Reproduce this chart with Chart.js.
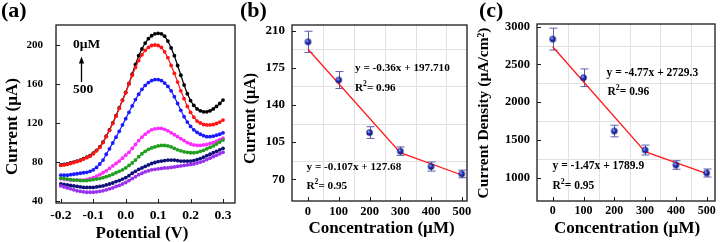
<!DOCTYPE html>
<html><head><meta charset="utf-8">
<script src="https://cdn.jsdelivr.net/npm/chart.js@4/dist/chart.umd.min.js"></script>
<style>
html,body{margin:0;padding:0;background:#fff;}
#wrap{position:relative;width:720px;height:242px;overflow:hidden;background:#fff;}
#wrap canvas{position:absolute;left:0;top:0;}
</style></head><body>
<div id="wrap">
<canvas id="ca" width="720" height="242"></canvas>
<canvas id="cb" width="720" height="242"></canvas>
<canvas id="cc" width="720" height="242"></canvas>
</div>
<script>
// ---------- Panel (a): current vs potential ----------
const potential = [-0.20,-0.19,-0.18,-0.17,-0.16,-0.15,-0.14,-0.13,-0.12,-0.11,
 -0.10,-0.09,-0.08,-0.07,-0.06,-0.05,-0.04,-0.03,-0.02,-0.01,
 0.00,0.01,0.02,0.03,0.04,0.05,0.06,0.07,0.08,0.09,
 0.10,0.11,0.12,0.13,0.14,0.15,0.16,0.17,0.18,0.19,
 0.20,0.21,0.22,0.23,0.24,0.25,0.26,0.27,0.28,0.29,0.30];
const curveBlack = [77,77.5,78,79,80,81,82,83.5,85,86.5,
 89,92,95.5,100.5,106.5,113,120,127.5,135.5,143.5,
 151.5,160.5,170,180,189,196,202,206.5,209.5,211.5,
 212,211.5,209,204,197,189,179,169,159,150,
 143,138,134.5,132.5,131.5,131.5,132.5,134.5,137,140,143.5];
const curveRed = [76.5,77,77.5,78.5,79.5,80.5,81.5,83,84.5,86,
 88.5,91.5,95,100,106,112.5,119.5,127,135,143,
 151,160,169,177,184,190,194.5,197.5,199.5,200,
 199.5,197.5,193,187,179,171,162,153,145,137,
 131,126,122,120,118.5,118,118,118.5,119.5,121,123];
const curveBlue = [66.5,66.5,66.5,67,67.5,68,68.5,69,69.5,70.5,
 72,74.5,78,82,88,93.5,99.5,105.5,111.5,118,
 124.5,131,137.5,144,149.5,154.5,158.5,161.5,163.5,164.5,
 164.5,163.5,161,157.5,153,147,140,133,126.5,121,
 116.5,113,110.5,108.5,107,106,106,106.5,107.5,108.5,110];
const curveMagenta = [63,62.5,62,61.5,61.5,61.5,61.5,61.5,62,63,
 64,65.5,67,69,71,73.5,76,78.5,81,84,
 87,90,94,98,102,105.5,108.5,111,113,114,
 114.5,114.5,113.5,112,110,108,106,104,102,100,
 98.5,97.5,97,97,97.5,98,99,100,101.5,103,104.5];
const curveGreen = [63.5,63,62.5,62,61.5,61.5,61,61,61,61.5,
 62,62.5,63,64,65,66,67.5,69,70.5,72,
 74,76.5,79,82,85.5,88.5,91,93,94.5,95.5,
 96.5,97,97,96.5,95.5,94,92.5,91.5,90.5,90,
 89.5,89.5,90,91,92,93.5,95,96.5,98.5,100.5,102.5];
const curveNavy = [57.5,57,56.5,56,55.5,55,54.5,54,54,54,
 54,54.5,55,55.5,56.5,57.5,58.5,60,61,62.5,
 64,66,68.5,70.5,72.5,74,75.5,77,78.5,79.5,
 80.5,81,81.5,82,82,82,81.5,81,81,81,
 81,81.5,82.5,83.5,85,86.5,88,89.5,91,92.5,94];
const curvePurple = [55.5,54.5,53.5,52.5,51.5,50.5,50,49.5,49,49,
 49,49.5,50,50.5,51.5,52.5,53.5,55,56,57.5,
 59,61,63,65,67,68.5,70,71,72,72.5,
 73,73.5,74,74,74.5,75,75.5,76,76.5,77,
 77.5,78,79,80,81,82.5,84,85.5,87,88.5,90];
const potentialTicks = [-0.2,-0.1,0,0.1,0.2,0.3];
const currentTicksA = [40,80,120,160,200];

// ---------- Panel (b): current vs concentration ----------
const concentration = [0,100,200,300,400,500];
const currentB = [199.5,163.5,114,96.5,82,75];
const errorB = [10,8,5.5,4,4.3,3.6];
const fitConc = [0,300,500];
const fitB = [192.5,95,74];
const currentTicksB = [70,105,140,175,210];
const concTicks = [0,100,200,300,400,500];
const gridConc = [50,150,250,350,450];
const gridB = [87.5,122.5,157.5,192.5];

// ---------- Panel (c): current density vs concentration ----------
const densityC = [2836,2324,1618,1366,1168,1062];
const errorC = [145,117,77,66,57,53];
const fitC = [2735,1345,1053];
const densityTicksC = [1000,1500,2000,2500,3000];
const gridC = [1250,1750,2250,2750];

// ---------- helpers ----------
const SERIF = "'Liberation Serif','Times New Roman',serif";
const F = sz => 'bold ' + sz + 'px ' + SERIF;

function framePlugin(xt, yt, len){
  return {id:'frame', afterDatasetsDraw(chart){
    const ctx = chart.ctx, a = chart.chartArea, sx = chart.scales.x, sy = chart.scales.y;
    ctx.save();
    ctx.strokeStyle = '#1a1a1a'; ctx.lineWidth = 1.3;
    ctx.strokeRect(a.left, a.top, a.right - a.left, a.bottom - a.top);
    ctx.lineWidth = 1;
    ctx.beginPath();
    xt.forEach(v => { const p = Math.round(sx.getPixelForValue(v)) + 0.5; ctx.moveTo(p, a.bottom); ctx.lineTo(p, a.bottom - len); });
    yt.forEach(v => { const p = Math.round(sy.getPixelForValue(v)) + 0.5; ctx.moveTo(a.left, p); ctx.lineTo(a.left + len, p); });
    ctx.stroke();
    ctx.restore();
  }};
}
function gridPlugin(xs, ys){
  return {id:'mgrid', beforeDatasetsDraw(chart){
    const ctx = chart.ctx, a = chart.chartArea, sx = chart.scales.x, sy = chart.scales.y;
    ctx.save(); ctx.strokeStyle = '#e1e1e1'; ctx.lineWidth = 1; ctx.beginPath();
    xs.forEach(v => { const p = Math.round(sx.getPixelForValue(v)) + 0.5; ctx.moveTo(p, a.top); ctx.lineTo(p, a.bottom); });
    ys.forEach(v => { const p = Math.round(sy.getPixelForValue(v)) + 0.5; ctx.moveTo(a.left, p); ctx.lineTo(a.right, p); });
    ctx.stroke(); ctx.restore();
  }};
}
function errPlugin(xs, ys, es){
  return {id:'err', beforeDatasetsDraw(chart){
    const ctx = chart.ctx, sx = chart.scales.x, sy = chart.scales.y;
    ctx.save(); ctx.strokeStyle = '#5b5fb0'; ctx.lineWidth = 1; ctx.beginPath();
    xs.forEach((v, i) => {
      const px = Math.round(sx.getPixelForValue(v)) + 0.5;
      const t = sy.getPixelForValue(ys[i] + es[i]), b = sy.getPixelForValue(ys[i] - es[i]);
      ctx.moveTo(px, t); ctx.lineTo(px, b);
      ctx.moveTo(px - 4, t); ctx.lineTo(px + 4, t);
      ctx.moveTo(px - 4, b); ctx.lineTo(px + 4, b);
    });
    ctx.stroke(); ctx.restore();
  }};
}
function textPlugin(items){
  return {id:'texts', afterDraw(chart){
    const ctx = chart.ctx;
    ctx.save(); ctx.fillStyle = '#000';
    items.forEach(it => {
      ctx.font = F(it.sz);
      if (it.r2){
        ctx.textAlign = 'left'; ctx.textBaseline = 'alphabetic';
        ctx.fillText('R', it.x, it.y);
        let w = ctx.measureText('R').width;
        ctx.font = F(it.sz * 0.68);
        ctx.fillText('2', it.x + w, it.y - it.sz * 0.42);
        w += ctx.measureText('2').width;
        ctx.font = F(it.sz);
        ctx.fillText('= ' + it.t, it.x + w, it.y);
        return;
      }
      ctx.save();
      ctx.translate(it.x, it.y);
      if (it.rot) ctx.rotate(-Math.PI / 2);
      ctx.textAlign = it.align || 'left';
      ctx.textBaseline = 'alphabetic';
      ctx.fillText(it.t, 0, 0);
      ctx.restore();
    });
    ctx.restore();
  }};
}
function arrowPlugin(x, y1, y2){
  return {id:'arrow', afterDraw(chart){
    const ctx = chart.ctx;
    ctx.save(); ctx.strokeStyle = '#000'; ctx.fillStyle = '#000'; ctx.lineWidth = 1.3;
    ctx.beginPath(); ctx.moveTo(x, y1); ctx.lineTo(x, y2 + 5); ctx.stroke();
    ctx.beginPath(); ctx.moveTo(x, y2); ctx.lineTo(x - 2.6, y2 + 7); ctx.lineTo(x + 2.6, y2 + 7); ctx.closePath(); ctx.fill();
    ctx.restore();
  }};
}
function ball(r){
  const s = Math.ceil(r * 2) + 2, c = document.createElement('canvas');
  c.width = c.height = s;
  const g = c.getContext('2d'), m = s / 2;
  const grd = g.createRadialGradient(m - r * 0.35, m - r * 0.4, 0.2, m, m, r);
  grd.addColorStop(0, '#b4c0ff'); grd.addColorStop(0.45, '#2636c0'); grd.addColorStop(1, '#0a1068');
  g.fillStyle = grd; g.beginPath(); g.arc(m, m, r, 0, Math.PI * 2); g.fill();
  return c;
}
function linScale(min, max, ticks, fontSz, pad, fmt, fitFn){
  return {type:'linear', min:min, max:max,
    afterBuildTicks: s => { s.ticks = ticks.map(v => ({value:v})); },
    ticks:{font:{family:SERIF, weight:'bold', size:fontSz}, color:'#000', padding:pad, autoSkip:false, maxRotation:0,
      callback: v => fmt(v)},
    grid:{display:false, drawTicks:false}, border:{display:false},
    afterFit: fitFn};
}
const base = {responsive:false, animation:false, events:[], devicePixelRatio:1,
  plugins:{legend:{display:false}, tooltip:{enabled:false}}};
const xy = (xs, ys) => xs.map((v, i) => ({x:v, y:ys[i]}));

// ---------- Chart (a) ----------
const seriesA = [
  [curveBlack, '#000000', 7], [curveRed, '#ff1414', 6], [curveBlue, '#1a1aff', 5],
  [curveMagenta, '#ff2cff', 4], [curveGreen, '#1f9f1f', 3], [curveNavy, '#10107a', 2], [curvePurple, '#9a30ee', 1]
];
new Chart(document.getElementById('ca'), {
  type:'line',
  data:{datasets: seriesA.map(s => ({data:xy(potential, s[0]), borderColor:s[1], backgroundColor:s[1],
    pointBackgroundColor:s[1], pointBorderWidth:0, pointRadius:1.9, borderWidth:1.2, order:s[2]}))},
  options:Object.assign({}, base, {
    layout:{padding:{left:0, top:25, right:485, bottom:0}},
    scales:{
      x: linScale(-0.215, 0.337, potentialTicks, 13.5, 4, v => v.toFixed(1), s => { s.height = 39; s.paddingLeft = 0; s.paddingRight = 0; }),
      y: linScale(38, 220.5, currentTicksA, 11, 13, v => String(v), s => { s.width = 56; s.paddingTop = 0; s.paddingBottom = 0; })
    }
  }),
  plugins:[framePlugin(potentialTicks, currentTicksA, 4),
    arrowPlugin(81.5, 82, 56.5),
    textPlugin([
      {t:'(a)', x:1, y:16.5, sz:22},
      {t:'Current (µA)', x:16.5, y:126.5, sz:17, rot:true, align:'center'},
      {t:'Potential (V)', x:142, y:238, sz:17, align:'center'},
      {t:'0µM', x:73, y:48, sz:13.5},
      {t:'500', x:73, y:93, sz:13.5}
    ])]
});

// ---------- Chart (b) ----------
const ballImg = ball(3.2);
new Chart(document.getElementById('cb'), {
  type:'line',
  data:{datasets:[
    {data:xy(concentration, currentB), showLine:false, pointStyle:ballImg, pointRadius:3.2, order:0},
    {data:xy(fitConc, fitB), borderColor:'#ff1a1a', borderWidth:1.3, pointRadius:0, order:1}
  ]},
  options:Object.assign({}, base, {
    layout:{padding:{left:240, top:25, right:253, bottom:0}},
    scales:{
      x: linScale(-52, 517, concTicks, 12.5, 3.5, v => String(v), s => { s.height = 41; s.paddingLeft = 0; s.paddingRight = 0; }),
      y: linScale(49.5, 215.4, currentTicksB, 13, 7, v => String(v), s => { s.width = 52; s.paddingTop = 0; s.paddingBottom = 0; })
    }
  }),
  plugins:[gridPlugin(gridConc, gridB), errPlugin(concentration, currentB, errorB), framePlugin(concTicks, currentTicksB, 4),
    textPlugin([
      {t:'(b)', x:240, y:16.5, sz:22},
      {t:'Current (µA)', x:255, y:118.5, sz:16, rot:true, align:'center'},
      {t:'Concentration (µM)', x:381.5, y:232.5, sz:17, align:'center'},
      {t:'y = -0.36x + 197.710', x:355, y:70.5, sz:11.2},
      {t:'0.96', x:355, y:90.5, sz:11.2, r2:true},
      {t:'y = -0.107x + 127.68', x:306.5, y:169.5, sz:11.2},
      {t:'0.95', x:306.5, y:189, sz:11.2, r2:true}
    ])]
});

// ---------- Chart (c) ----------
new Chart(document.getElementById('cc'), {
  type:'line',
  data:{datasets:[
    {data:xy(concentration, densityC), showLine:false, pointStyle:ballImg, pointRadius:3.2, order:0},
    {data:xy(fitConc, fitC), borderColor:'#ff1a1a', borderWidth:1.3, pointRadius:0, order:1}
  ]},
  options:Object.assign({}, base, {
    layout:{padding:{left:480, top:24, right:5, bottom:0}},
    scales:{
      x: linScale(-51, 527, concTicks, 12, 3, v => String(v), s => { s.height = 41; s.paddingLeft = 0; s.paddingRight = 0; }),
      y: linScale(691, 3036, densityTicksC, 12.5, 7, v => String(v), s => { s.width = 57; s.paddingTop = 0; s.paddingBottom = 0; })
    }
  }),
  plugins:[gridPlugin(gridConc, gridC), errPlugin(concentration, densityC, errorC), framePlugin(concTicks, densityTicksC, 4),
    textPlugin([
      {t:'(c)', x:479, y:16.5, sz:22},
      {t:'Current Density (µA/cm²)', x:487.5, y:113, sz:15.5, rot:true, align:'center'},
      {t:'Concentration (µM)', x:627, y:233, sz:17, align:'center'},
      {t:'y = -4.77x + 2729.3', x:606.5, y:75.5, sz:11.5},
      {t:'0.96', x:607.5, y:95, sz:11.5, r2:true},
      {t:'y = -1.47x + 1789.9', x:552.5, y:169, sz:11.5},
      {t:'0.95', x:552.5, y:189, sz:11.5, r2:true}
    ])]
});
</script>
</body></html>
